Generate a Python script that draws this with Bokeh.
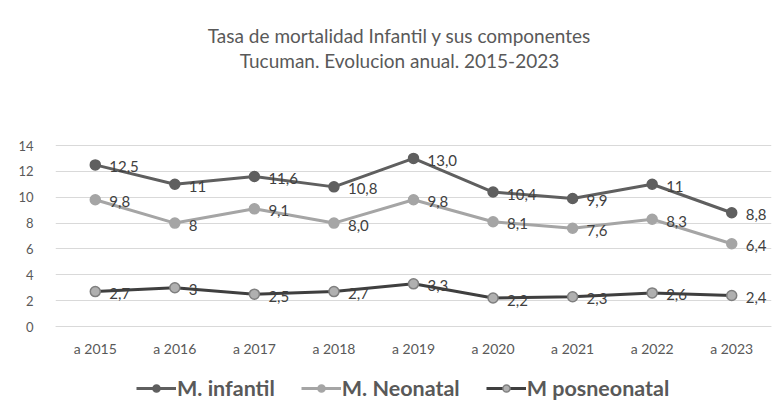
from bokeh.plotting import figure
from bokeh.models import ColumnDataSource, Range1d, FixedTicker, Label, Legend, LegendItem
from bokeh.core.properties import value
from bokeh.embed import file_html
from bokeh.resources import INLINE

years = ["a 2015", "a 2016", "a 2017", "a 2018", "a 2019", "a 2020", "a 2021", "a 2022", "a 2023"]
infantil = [12.5, 11, 11.6, 10.8, 13.0, 10.4, 9.9, 11, 8.8]
infantil_lbl = ["12,5", "11", "11,6", "10,8", "13,0", "10,4", "9,9", "11", "8,8"]
neonatal = [9.8, 8, 9.1, 8.0, 9.8, 8.1, 7.6, 8.3, 6.4]
neonatal_lbl = ["9,8", "8", "9,1", "8,0", "9,8", "8,1", "7,6", "8,3", "6,4"]
posneo = [2.7, 3, 2.5, 2.7, 3.3, 2.2, 2.3, 2.6, 2.4]
posneo_lbl = ["2,7", "3", "2,5", "2,7", "3,3", "2,2", "2,3", "2,6", "2,4"]
y_ticks = [0, 2, 4, 6, 8, 10, 12, 14]
title_lines = ["Tasa de mortalidad Infantil y sus componentes",
               "Tucuman. Evolucion anual. 2015-2023"]

FONT = "Lato"
GRAY = "#595959"

# layout (pixels): the frame spans the full height; value 14 sits at PX_TOP, 0 at PX_ZERO
H = 405
PX_TOP, PX_ZERO = 145, 326
ppu = (PX_ZERO - PX_TOP) / 14.0
y_lo = -(H - PX_ZERO) / ppu
y_hi = 14 + PX_TOP / ppu

def y_at(px):
    return 14 + (PX_TOP - px) / ppu

p = figure(x_range=years, y_range=Range1d(y_lo, y_hi), frame_width=716, frame_height=H,
           title=None, output_backend="svg", toolbar_location=None,
           min_border_left=55, min_border_right=1, min_border_top=0, min_border_bottom=0)

for txt, py in zip(title_lines, [35, 60]):
    p.add_layout(Label(x=4.5, y=y_at(py), x_offset=-14, text=txt, text_align="center",
                       text_baseline="middle", text_font=FONT, text_font_size="19px",
                       text_color=GRAY))

p.outline_line_color = None
p.background_fill_color = "white"
p.border_fill_color = "white"

p.xgrid.grid_line_color = None
p.ygrid.grid_line_color = "#d9d9d9"
p.ygrid.grid_line_width = 1

p.yaxis.ticker = FixedTicker(ticks=y_ticks)
p.yaxis.axis_line_color = None
p.yaxis.major_tick_line_color = None
p.yaxis.minor_tick_line_color = None
p.yaxis.major_label_text_font = FONT
p.yaxis.major_label_text_font_size = "13px"
p.yaxis.major_label_text_color = GRAY
p.yaxis.major_label_standoff = 16

xax = p.xaxis[0]
xax.fixed_location = 0
xax.axis_line_color = "#d9d9d9"
xax.major_tick_line_color = None
xax.minor_tick_line_color = None
xax.major_label_text_font = FONT
xax.major_label_text_font_size = "14px"
xax.major_label_text_color = GRAY
xax.major_label_standoff = 7

series = [
    ("M. infantil", infantil, infantil_lbl, "#5f5f5f", "#5f5f5f", "#5f5f5f"),
    ("M. Neonatal", neonatal, neonatal_lbl, "#a5a5a5", "#a5a5a5", "#a5a5a5"),
    ("M posneonatal", posneo, posneo_lbl, "#3f3f3f", "#7f7f7f", "#b0b0b0"),
]

items = []
for name, vals, lbls, lcol, mline, mfill in series:
    src = ColumnDataSource(dict(x=years, y=vals, lbl=lbls))
    r1 = p.line("x", "y", source=src, line_color=lcol, line_width=3)
    r2 = p.scatter("x", "y", source=src, size=10, marker="circle",
                   fill_color=mfill, line_color=mline, line_width=1.5)
    p.text("x", "y", text="lbl", source=src, x_offset=14, y_offset=2,
           text_font=value(FONT), text_font_size="15px", text_color="#404040",
           text_align="left", text_baseline="middle")
    items.append(LegendItem(label=name, renderers=[r1, r2]))

legend = Legend(items=items, orientation="horizontal", location=(81, 4),
                label_text_font=FONT, label_text_font_size="21.5px",
                label_text_font_style="bold", label_text_color=GRAY,
                glyph_width=40, glyph_height=18, spacing=26, label_standoff=1,
                border_line_color=None, background_fill_alpha=0,
                margin=0, padding=2)
p.add_layout(legend)

open("out.html", "w").write(file_html(p, INLINE))
